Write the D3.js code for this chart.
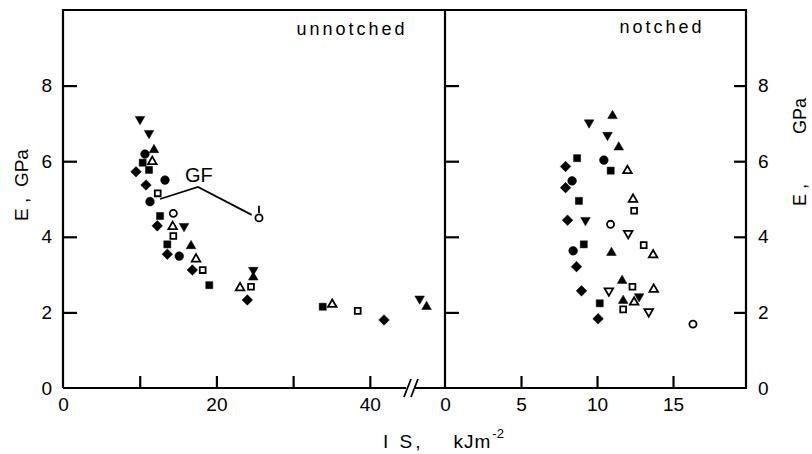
<!DOCTYPE html>
<html>
<head>
<meta charset="utf-8">
<script src="https://cdn.jsdelivr.net/npm/d3@7"></script>
<style>
  body { margin: 0; background: #fff; }
  svg text { font-family: "Liberation Sans", Arial, Helvetica, sans-serif; fill: #000; }
</style>
</head>
<body>
<script>
// unnotched panel, IS (kJ/m2) vs E (GPa)
const unDiamond = [[9.52,5.72],[10.82,5.37],[12.29,4.29],[13.6,3.54],[16.86,3.12],[24.03,2.33],[41.85,1.80]];
const unCircle = [[10.69,6.19],[13.3,5.5],[11.34,4.93],[15.16,3.49]];
const unSquare = [[10.39,5.96],[11.21,5.77],[12.65,4.55],[13.6,3.80],[19.07,2.72],[33.86,2.15]];
const unTriUp = [[11.86,6.30],[16.69,3.76],[24.81,2.93],[47.4,2.15]];
const unTriDown = [[10.04,7.11],[11.21,6.74],[15.78,4.28],[24.81,3.12],[46.5,2.36]];
const unOpenTri = [[11.64,5.99],[14.3,4.27],[17.34,3.41],[23.08,2.65],[35.1,2.21]];
const unOpenSquare = [[12.35,5.15],[14.38,4.02],[18.21,3.12],[24.51,2.68],[38.42,2.04]];
const unOpenCircle = [[14.38,4.62],[25.55,4.50]];

// notched panel
const noDiamond = [[7.93,5.86],[7.93,5.30],[8.06,4.44],[8.65,3.21],[8.98,2.57],[10.07,1.83]];
const noCircle = [[8.36,5.48],[8.43,3.63],[10.45,6.03]];
const noSquare = [[8.69,6.08],[8.81,4.95],[9.13,3.80],[10.9,5.75],[10.18,2.24]];
const noTriUp = [[11.02,7.20],[11.43,6.37],[10.95,3.58],[11.65,2.84],[11.72,2.31]];
const noTriDown = [[9.48,7.02],[10.69,6.69],[9.24,4.44],[12.77,2.42]];
const noOpenTri = [[12.0,5.75],[12.37,4.99],[13.69,3.52],[13.73,2.61],[12.44,2.27]];
const noOpenSquare = [[12.44,4.69],[13.07,3.78],[12.33,2.68],[11.72,2.08]];
const noOpenCircle = [[10.89,4.33],[16.31,1.69]];
const noOpenTriDown = [[12.05,4.09],[10.78,2.57],[13.4,2.02]];

// GF annotation line
const gfLine = [[12.65,5.0],[17.6,5.32],[24.6,4.58]];
const gfTick = [[25.55,4.63],[25.55,4.82]];
const gfLabel = [17.7, 5.63];

const leftXTicks = [10, 20, 30, 40];
const leftXLabels = [0, 20, 40];
const rightXTicks = [5, 10, 15];
const rightXLabels = [0, 5, 10, 15];
const yTicks = [2, 4, 6, 8];
const yLabels = [0, 2, 4, 6, 8];

const W = 812, H = 454;
const svg = d3.select('body').append('svg')
  .attr('width', W).attr('height', H);

const xL = d3.scaleLinear().domain([0, 49.8]).range([63, 445]);
const xR = d3.scaleLinear().domain([0, 19.8]).range([445, 746]);
const y = d3.scaleLinear().domain([0, 10]).range([388, 10]);

// frame
const frame = svg.append('g').attr('stroke', '#000').attr('stroke-width', 2.2).attr('fill', 'none');
frame.append('path').attr('d', `M${xL.range()[0]},${y(0)}V${y.range()[1]}H${xR.range()[1]}V${y(0)}H${xL.range()[0]}`);
frame.append('line')
  .attr('x1', xR.range()[0]).attr('x2', xR.range()[0])
  .attr('y1', y.range()[1]).attr('y2', y(0));

// axis break marks
const brk = svg.append('g').attr('stroke', '#000').attr('stroke-width', 1.8);
brk.append('line').attr('x1', 406).attr('x2', 415).attr('y1', y(0)).attr('y2', y(0)).attr('stroke', '#fff').attr('stroke-width', 4);
[407, 414].forEach(bx => {
  brk.append('line').attr('x1', bx - 3).attr('y1', y(0) + 9).attr('x2', bx + 4).attr('y2', y(0) - 9);
});

const styleAxis = g => {
  g.select('.domain').remove();
  g.selectAll('.tick line').attr('stroke', '#000').attr('stroke-width', 2.2);
  g.selectAll('.tick text').attr('font-size', 19).attr('fill', '#000');
};

// x axes (ticks point inward)
svg.append('g').attr('transform', `translate(0,${y(0)})`)
  .call(d3.axisBottom(xL).tickValues(leftXTicks).tickSize(-12).tickFormat(() => ''))
  .call(styleAxis);
svg.append('g').attr('transform', `translate(0,${y(0)})`)
  .call(d3.axisBottom(xL).tickValues(leftXLabels).tickSize(0).tickPadding(10))
  .call(styleAxis);
svg.append('g').attr('transform', `translate(0,${y(0)})`)
  .call(d3.axisBottom(xR).tickValues(rightXTicks).tickSize(-12).tickFormat(() => ''))
  .call(styleAxis);
svg.append('g').attr('transform', `translate(0,${y(0)})`)
  .call(d3.axisBottom(xR).tickValues(rightXLabels).tickSize(0).tickPadding(10))
  .call(styleAxis);

// y axes
svg.append('g').attr('transform', `translate(${xL.range()[0]},0)`)
  .call(d3.axisLeft(y).tickValues(yTicks).tickSize(-14).tickFormat(() => ''))
  .call(styleAxis);
svg.append('g').attr('transform', `translate(${xL.range()[0]},0)`)
  .call(d3.axisLeft(y).tickValues(yLabels).tickSize(0).tickPadding(11))
  .call(styleAxis);
svg.append('g').attr('transform', `translate(${xR.range()[0]},0)`)
  .call(d3.axisLeft(y).tickValues(yTicks).tickSize(-14).tickFormat(() => ''))
  .call(styleAxis);
svg.append('g').attr('transform', `translate(${xR.range()[1]},0)`)
  .call(d3.axisRight(y).tickValues(yTicks).tickSize(-12).tickFormat(() => ''))
  .call(styleAxis);
svg.append('g').attr('transform', `translate(${xR.range()[1]},0)`)
  .call(d3.axisRight(y).tickValues(yLabels).tickSize(0).tickPadding(12))
  .call(styleAxis);

// markers
const series = [
  { x: xL, pts: unDiamond, shape: 'diamond', open: false },
  { x: xL, pts: unCircle, shape: 'circle', open: false },
  { x: xL, pts: unSquare, shape: 'square', open: false },
  { x: xL, pts: unTriUp, shape: 'up', open: false },
  { x: xL, pts: unTriDown, shape: 'down', open: false },
  { x: xL, pts: unOpenTri, shape: 'up', open: true },
  { x: xL, pts: unOpenSquare, shape: 'square', open: true },
  { x: xL, pts: unOpenCircle, shape: 'circle', open: true },
  { x: xR, pts: noDiamond, shape: 'diamond', open: false },
  { x: xR, pts: noCircle, shape: 'circle', open: false },
  { x: xR, pts: noSquare, shape: 'square', open: false },
  { x: xR, pts: noTriUp, shape: 'up', open: false },
  { x: xR, pts: noTriDown, shape: 'down', open: false },
  { x: xR, pts: noOpenTri, shape: 'up', open: true },
  { x: xR, pts: noOpenSquare, shape: 'square', open: true },
  { x: xR, pts: noOpenCircle, shape: 'circle', open: true },
  { x: xR, pts: noOpenTriDown, shape: 'down', open: true }
];

const symbolFor = (shape, open) => {
  if (shape === 'diamond') return d3.symbol(d3.symbolSquare, 56)();
  if (shape === 'circle') return d3.symbol(d3.symbolCircle, open ? 40 : 60)();
  if (shape === 'square') return d3.symbol(d3.symbolSquare, open ? 34 : 50)();
  return d3.symbol(d3.symbolTriangle, open ? 32 : 40)();
};
const rotFor = shape => shape === 'diamond' ? 45 : shape === 'down' ? 180 : 0;

series.forEach(s => {
  svg.append('g').selectAll('path')
    .data(s.pts)
    .join('path')
      .attr('d', symbolFor(s.shape, s.open))
      .attr('transform', d => `translate(${s.x(d[0])},${y(d[1])}) rotate(${rotFor(s.shape)})`)
      .attr('fill', s.open ? '#fff' : '#000')
      .attr('stroke', '#000')
      .attr('stroke-width', s.open ? 1.8 : 0.5);
});

// GF annotation
const line = d3.line().x(d => xL(d[0])).y(d => y(d[1]));
svg.append('path').attr('d', line(gfLine)).attr('fill', 'none').attr('stroke', '#000').attr('stroke-width', 1.8);
svg.append('path').attr('d', line(gfTick)).attr('fill', 'none').attr('stroke', '#000').attr('stroke-width', 1.8);
svg.append('text')
  .attr('x', xL(gfLabel[0])).attr('y', y(gfLabel[1]))
  .attr('text-anchor', 'middle').attr('dominant-baseline', 'central')
  .attr('font-size', 20).text('GF');

// panel titles
svg.append('text').attr('x', 352).attr('y', 35).attr('text-anchor', 'middle')
  .attr('font-size', 18).attr('letter-spacing', 3).text('unnotched');
svg.append('text').attr('x', 662).attr('y', 33).attr('text-anchor', 'middle')
  .attr('font-size', 18).attr('letter-spacing', 3).text('notched');

// axis titles
svg.append('text')
  .attr('transform', 'translate(21,185) rotate(-90)')
  .attr('text-anchor', 'middle').attr('dominant-baseline', 'central')
  .attr('font-size', 19).attr('xml:space', 'preserve').text('E ,  GPa');
svg.append('text')
  .attr('transform', 'translate(800,152) rotate(-90)')
  .attr('text-anchor', 'middle').attr('dominant-baseline', 'central')
  .attr('font-size', 18).attr('xml:space', 'preserve').text('E ,          GPa');

const xt = svg.append('text').attr('x', 383).attr('y', 448).attr('font-size', 19).attr('xml:space', 'preserve');
xt.append('tspan').attr('letter-spacing', 3).text('I S,');
xt.append('tspan').attr('dx', 30).attr('letter-spacing', 1).text('kJm');
xt.append('tspan').attr('dx', 1).attr('dy', -10).attr('font-size', 13).text('-2');
</script>
</body>
</html>
